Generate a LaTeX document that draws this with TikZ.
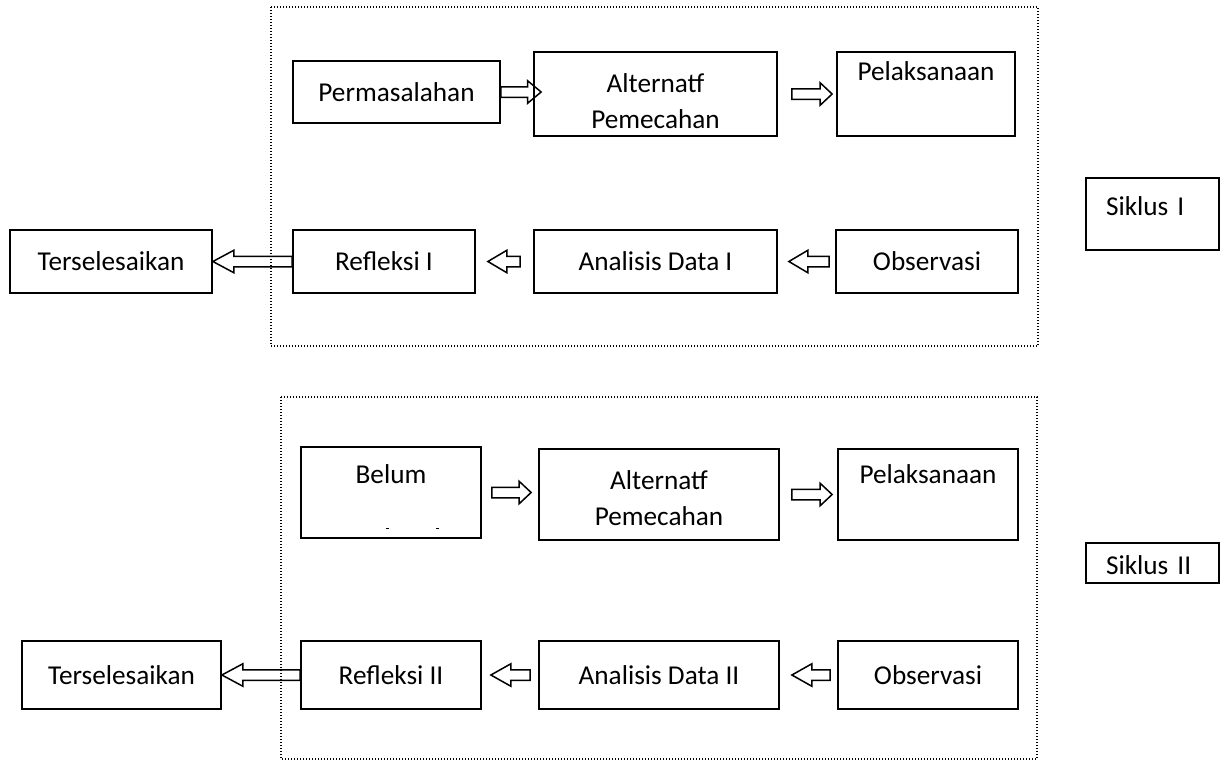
\documentclass[tikz,border=0pt]{standalone}
\usepackage{fontspec}
\setmainfont{Carlito}
\usetikzlibrary{calc, positioning}

\tikzset{
  box/.style={draw, line width=0.7pt, inner sep=0pt, align=center,
    font=\fontsize{10.9}{14.4}\selectfont},
  siklus/.style={box, align=left, inner xsep=8pt, text width=37.2pt},
  frame/.style={line width=0.45pt, dash pattern=on 0.45pt off 0.75pt},
  barrow/.style={draw, line width=0.6pt, line join=miter},
}

% block arrow: tail, tip, head length (signed)
\newcommand{\blockarrow}[3]{%
  \draw[barrow] let \p1=(#1), \p2=(#2) in
    ({\x1},{\y1+2.1pt}) -- ({\x2-(#3)},{\y1+2.1pt}) -- ({\x2-(#3)},{\y1+4.5pt})
    -- ({\x2},{\y1}) -- ({\x2-(#3)},{\y1-4.5pt}) -- ({\x2-(#3)},{\y1-2.1pt})
    -- ({\x1},{\y1-2.1pt}) -- cycle;}

\begin{document}
\begin{tikzpicture}[x=0.4pt, y=-0.4pt]
\useasboundingbox (0,0) rectangle (1220,761);

% Siklus I
\node[box, minimum width=82.8pt, minimum height=24.8pt] (perm1) at (396.5,92) {Permasalahan};
\node[box, minimum width=97.2pt, minimum height=33.6pt] (alt1) at (655.5,94) {\rule{0pt}{13.3pt}Alternatf\\Pemecahan};
\node[box, minimum width=71.2pt, text height=11.2pt, text depth=22.4pt] (pel1) at (926,94) {Pelaksanaan};
\node[box, minimum width=80.8pt, minimum height=25.2pt] (ters1) at (111,261.5) {Terselesaikan};
\node[box, minimum width=72.8pt, minimum height=25.2pt] (ref1) at (384,261.5) {Refleksi I};
\node[box, minimum width=97.2pt, minimum height=25.2pt] (ana1) at (655.5,261.5) {Analisis Data I};
\node[box, minimum width=72.8pt, minimum height=25.2pt] (obs1) at (927,261.5) {Observasi};
\node[siklus, text height=14.8pt, text depth=14pt] (sik1) at (1152.5,214) {Siklus I};

% Siklus II
\node[box, minimum width=72pt, text height=14.4pt, text depth=22pt] (bel) at (391,492.5) {Belum};
\node[box, minimum width=96pt, minimum height=36.4pt] (alt2) at (659,494.5) {\rule{0pt}{10.5pt}Alternatf\\Pemecahan};
\node[box, minimum width=72pt, text height=13.6pt, text depth=22.8pt] (pel2) at (928,494.5) {Pelaksanaan};
\node[box, minimum width=79.6pt, minimum height=27.2pt] (ters2) at (121.5,675) {Terselesaikan};
\node[box, minimum width=72pt, minimum height=27.2pt] (ref2) at (391,675) {Refleksi II};
\node[box, minimum width=96pt, minimum height=27.2pt] (ana2) at (659,675) {Analisis Data II};
\node[box, minimum width=72pt, minimum height=27.2pt] (obs2) at (928,675) {Observasi};
\node[siklus, text height=12.4pt, text depth=3.6pt] (sik2) at (1152.5,563) {Siklus II};

% clipped text marks
\draw[line width=0.4pt] (386,528) -- (389,528) (436,528) -- (439,528);

% Arrow ends
\coordinate (a1) at ($(alt1.west |- perm1.east)+(8,0)$);
\coordinate (a2s) at ($(alt1.east)+(14,0)$);
\coordinate (a2e) at ($(pel1.west)+(-4,0)$);
\coordinate (a3s) at ($(obs1.west)+(-6,0)$);
\coordinate (a3e) at ($(ana1.east)+(11,0)$);
\coordinate (a4s) at ($(ana1.west)+(-13,0)$);
\coordinate (a4e) at ($(ref1.east)+(12,0)$);
\coordinate (b1s) at ($(bel.east)+(10,0)$);
\coordinate (b1e) at ($(alt2.west |- bel.east)+(-7,0)$);
\coordinate (b2s) at ($(alt2.east)+(12,0)$);
\coordinate (b2e) at ($(pel2.west)+(-5,0)$);
\coordinate (b3s) at ($(obs2.west)+(-7,0)$);
\coordinate (b3e) at ($(ana2.east)+(12,0)$);
\coordinate (b4s) at ($(ana2.west)+(-8,0)$);
\coordinate (b4e) at ($(ref2.east)+(9,0)$);

% Arrows
\blockarrow{perm1.east}{a1}{5.4pt}
\blockarrow{a2s}{a2e}{4.8pt}
\blockarrow{a3s}{a3e}{-7.6pt}
\blockarrow{a4s}{a4e}{-7.6pt}
\blockarrow{ref1.west}{ters1.east}{-8.4pt}
\blockarrow{b1s}{b1e}{4.8pt}
\blockarrow{b2s}{b2e}{4.8pt}
\blockarrow{b3s}{b3e}{-8pt}
\blockarrow{b4s}{b4e}{-8pt}
\blockarrow{ref2.west}{ters2.east}{-8.4pt}

% Dotted frames
\draw[frame] (271,7) rectangle (1038,346);
\draw[frame] (281,397) rectangle (1037,759);
\end{tikzpicture}
\end{document}
